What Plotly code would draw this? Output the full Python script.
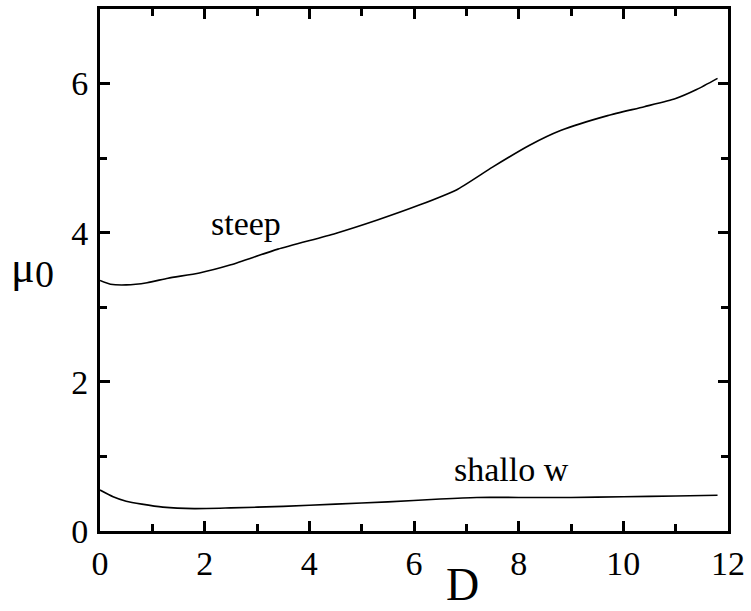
import plotly.graph_objects as go

steep_x = [0, 0.2, 0.5, 0.9, 1.3, 1.9, 2.5, 3.4, 4.5, 5.3, 6.1, 6.8, 7.5, 8.2, 8.8, 9.7, 10.4, 11.0, 11.4, 11.8]
steep_y = [3.36, 3.31, 3.30, 3.33, 3.39, 3.46, 3.57, 3.78, 3.99, 4.17, 4.37, 4.57, 4.88, 5.17, 5.37, 5.57, 5.69, 5.80, 5.92, 6.07]

shallow_x = [0, 0.25, 0.5, 0.8, 1.2, 1.8, 2.5, 3.5, 4.5, 5.5, 6.5, 7.2, 8, 9, 10, 11, 11.8]
shallow_y = [0.55, 0.46, 0.40, 0.36, 0.32, 0.30, 0.31, 0.33, 0.36, 0.39, 0.43, 0.45, 0.45, 0.45, 0.46, 0.47, 0.48]

x_ticks = [0, 2, 4, 6, 8, 10, 12]
y_ticks = [0, 2, 4, 6]

FONT = "Liberation Serif"

fig = go.Figure()
fig.add_trace(go.Scatter(x=steep_x, y=steep_y, mode="lines", line=dict(color="black", width=1.6, shape="spline", smoothing=0.6), showlegend=False))
fig.add_trace(go.Scatter(x=shallow_x, y=shallow_y, mode="lines", line=dict(color="black", width=1.6, shape="spline", smoothing=0.6), showlegend=False))

axis_common = dict(showgrid=False, zeroline=False, showline=True, linecolor="black", linewidth=3,
                   mirror="ticks", ticks="inside", ticklen=10, tickwidth=3, tickcolor="black",
                   tickfont=dict(family=FONT, size=34, color="black"),
                   minor=dict(ticks="inside", ticklen=7, tickwidth=3, tickcolor="black", dtick=1))

fig.update_xaxes(range=[0, 12], tickvals=x_ticks, ticktext=[str(v) for v in x_ticks], ticklabelstandoff=0, **axis_common)
fig.update_yaxes(range=[0, 7], tickvals=y_ticks, ticktext=[str(v) for v in y_ticks], ticklabelstandoff=2, **axis_common)

fig.add_annotation(x=2.79, y=4.12, xref="x", yref="y", text="steep", showarrow=False,
                   font=dict(family=FONT, size=34, color="black"))
fig.add_annotation(x=7.86, y=0.82, xref="x", yref="y", text="shallo w", showarrow=False,
                   font=dict(family=FONT, size=34, color="black"))
fig.add_annotation(x=(465 - 100) / 632, y=-(612 - 531) / 525, xref="paper", yref="paper", text="D",
                   showarrow=False, font=dict(family=FONT, size=46, color="black"))
fig.add_annotation(x=(8 - 100) / 632, y=(531 - 266) / 525, xref="paper", yref="paper", text="μ",
                   showarrow=False, font=dict(family=FONT, size=44, color="black"))
fig.add_annotation(x=(33 - 100) / 632, y=(531 - 273) / 525, xref="paper", yref="paper", text="0",
                   showarrow=False, font=dict(family=FONT, size=38, color="black"))

fig.update_layout(width=751, height=611, margin=dict(l=100, r=19, t=6, b=80),
                  plot_bgcolor="white", paper_bgcolor="white")

fig.write_html("out.html")
